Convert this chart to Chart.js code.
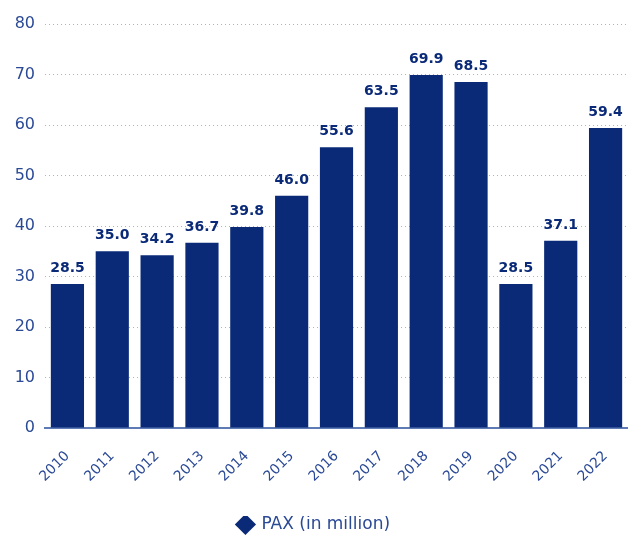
<!DOCTYPE html>
<html>
<head>
<meta charset="utf-8">
<script src="https://cdn.jsdelivr.net/npm/chart.js@4/dist/chart.umd.min.js"></script>
<style>
  html, body { margin: 0; padding: 0; background: #fff; }
  #wrap { width: 628px; height: 536px; }
</style>
</head>
<body>
<div id="wrap"><canvas id="c" width="628" height="536"></canvas></div>
<script>
// Passenger traffic per year
const years = ['2010','2011','2012','2013','2014','2015','2016','2017','2018','2019','2020','2021','2022'];
const pax = [28.5, 35.0, 34.2, 36.7, 39.8, 46.0, 55.6, 63.5, 69.9, 68.5, 28.5, 37.1, 59.4];
const seriesName = 'PAX (in million)';
const yTicks = [0, 10, 20, 30, 40, 50, 60, 70, 80];

const NAVY = '#0a2a78';
const TICK = '#2b4a96';
const FONT = "'DejaVu Sans', 'Noto Sans', sans-serif";

// Writes each bar's value above it
const valueLabels = {
  id: 'valueLabels',
  afterDatasetsDraw(chart) {
    const ctx = chart.ctx;
    const meta = chart.getDatasetMeta(0);
    ctx.save();
    ctx.fillStyle = NAVY;
    ctx.font = "bold 14px " + FONT;
    ctx.textAlign = 'center';
    ctx.textBaseline = 'alphabetic';
    meta.data.forEach((bar, i) => {
      ctx.fillText(pax[i].toFixed(1), bar.x, bar.y - 12);
    });
    ctx.restore();
  }
};

new Chart(document.getElementById('c'), {
  type: 'bar',
  data: {
    labels: years,
    datasets: [{
      label: seriesName,
      data: pax,
      backgroundColor: NAVY,
      borderWidth: 0,
      barPercentage: 0.74,
      categoryPercentage: 1.0
    }]
  },
  options: {
    responsive: false,
    animation: false,
    layout: { padding: { top: 24, right: 0, left: 0, bottom: -7 } },
    plugins: {
      legend: {
        position: 'bottom',
        labels: {
          usePointStyle: true,
          pointStyle: 'rectRot',
          boxWidth: 15,
          boxHeight: 15,
          color: TICK,
          font: { family: FONT, size: 17 },
          padding: 0
        }
      },
      tooltip: { enabled: false }
    },
    scales: {
      x: {
        grid: { display: false, drawTicks: false },
        border: { display: true, color: '#5f7bb5', width: 2 },
        ticks: {
          color: TICK,
          font: { family: FONT, size: 14 },
          maxRotation: 45,
          minRotation: 45,
          padding: 20
        },
        afterFit(scale) {
          scale.height = 88;
          scale.paddingRight = 0;
          scale.paddingLeft = 0;
        }
      },
      y: {
        min: yTicks[0],
        max: yTicks[yTicks.length - 1],
        afterBuildTicks(scale) { scale.ticks = yTicks.map(v => ({ value: v })); },
        ticks: {
          color: TICK,
          font: { family: FONT, size: 16 },
          padding: 10
        },
        grid: {
          color: (c) => c.tick.value === 0 ? 'rgba(0,0,0,0)' : '#aab2c8',
          lineWidth: 1,
          drawTicks: false
        },
        border: { display: false, dash: [1, 3] },
        afterFit(scale) { scale.width = 45; }
      }
    }
  },
  plugins: [valueLabels]
});
</script>
</body>
</html>
